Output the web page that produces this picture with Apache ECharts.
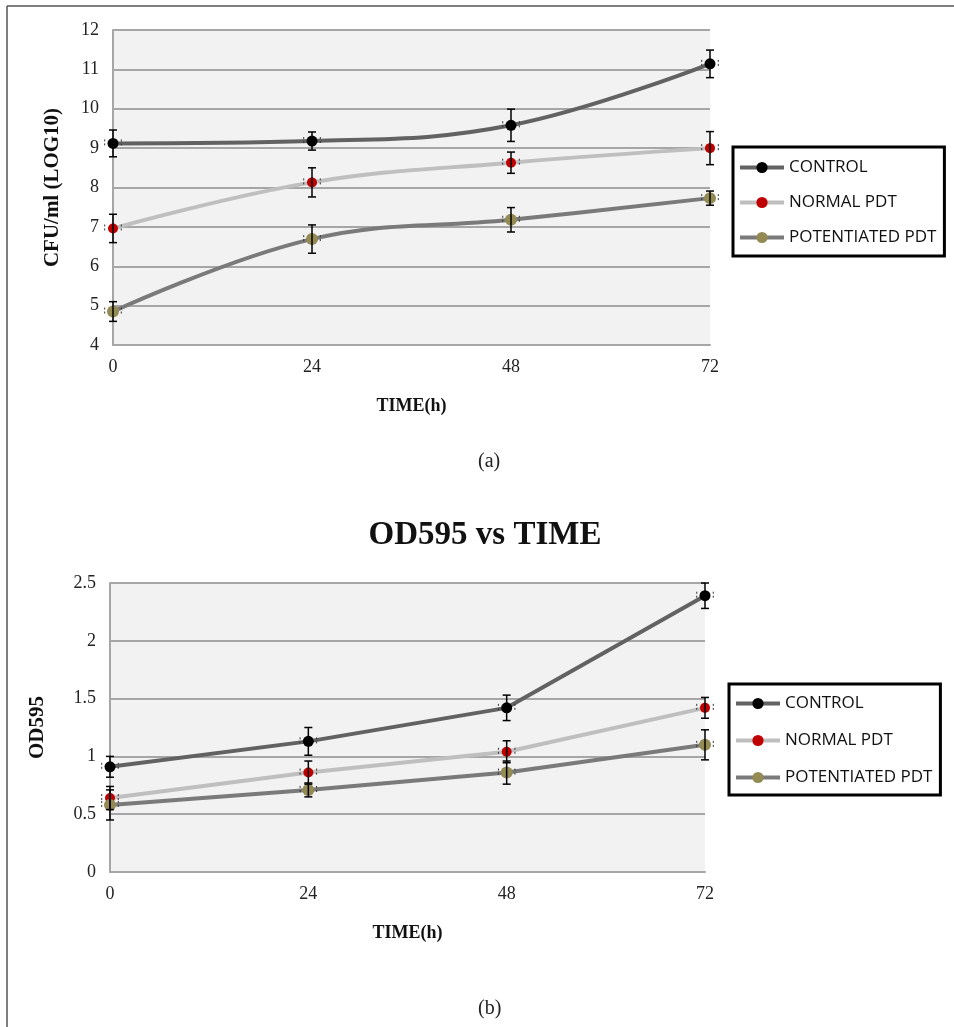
<!DOCTYPE html>
<html>
<head>
<meta charset="utf-8">
<script src="https://cdn.jsdelivr.net/npm/echarts@6/dist/echarts.min.js"></script>
<style>
  html, body { margin: 0; padding: 0; background: #fff; }
  #chart { width: 954px; height: 1027px; }
</style>
</head>
<body>
<div id="chart"></div>
<script>
// time points (h)
const hours = [0, 24, 48, 72]
const seriesNames = ['CONTROL', 'NORMAL PDT', 'POTENTIATED PDT']
// (a) CFU/ml (LOG10)
const cfuControl = [9.12, 9.18, 9.58, 11.14]
const cfuControlErr = [0.34, 0.23, 0.41, 0.35]
const cfuNormal = [6.96, 8.13, 8.63, 9.0]
const cfuNormalErr = [0.36, 0.37, 0.27, 0.42]
const cfuPotent = [4.85, 6.69, 7.18, 7.73]
const cfuPotentErr = [0.25, 0.36, 0.31, 0.18]
// (b) OD595
const odControl = [0.91, 1.13, 1.42, 2.39]
const odControlErr = [0.09, 0.12, 0.11, 0.11]
const odNormal = [0.64, 0.86, 1.04, 1.42]
const odNormalErr = [0.1, 0.1, 0.095, 0.09]
const odPotent = [0.58, 0.71, 0.86, 1.10]
const odPotentErr = [0.13, 0.06, 0.1, 0.13]
const timeErr = 1

const lineColors = ['#626262', '#bfbfbf', '#7a7a7a']
const markColors = ['#000000', '#c00000', '#948a54']
const markSizes = [11, 10, 12]

const serif = 'Liberation Serif, Times New Roman, serif'

let myChart = echarts.init(document.getElementById('chart'))

// 误差线
function errRender(params, api) {
    let x = api.value(0), y = api.value(1), e = api.value(2)
    let top = api.coord([x, y + e])
    let bot = api.coord([x, y - e])
    let l = api.coord([x - timeErr, y])
    let r = api.coord([x + timeErr, y])
    let cap = 4
    let st = { stroke: '#000', lineWidth: 1.5 }
    let dash = { stroke: '#333', lineWidth: 1, lineDash: [2, 2] }
    return {
        type: 'group',
        children: [
            { type: 'line', shape: { x1: top[0], y1: top[1], x2: bot[0], y2: bot[1] }, style: st },
            { type: 'line', shape: { x1: top[0] - cap, y1: top[1], x2: top[0] + cap, y2: top[1] }, style: st },
            { type: 'line', shape: { x1: bot[0] - cap, y1: bot[1], x2: bot[0] + cap, y2: bot[1] }, style: st },
            { type: 'line', shape: { x1: l[0], y1: l[1] - cap, x2: l[0], y2: l[1] + cap }, style: dash },
            { type: 'line', shape: { x1: r[0], y1: r[1] - cap, x2: r[0], y2: r[1] + cap }, style: dash }
        ]
    }
}

function pairs(vals) {
    return hours.map((h, i) => [h, vals[i]])
}
function triples(vals, errs) {
    return hours.map((h, i) => [h, vals[i], errs[i]])
}

let topSets = [[cfuControl, cfuControlErr], [cfuNormal, cfuNormalErr], [cfuPotent, cfuPotentErr]]
let botSets = [[odControl, odControlErr], [odNormal, odNormalErr], [odPotent, odPotentErr]]

let series = []
;[topSets, botSets].forEach((sets, g) => {
    sets.forEach((s, i) => {
        series.push({
            type: 'custom',
            xAxisIndex: g,
            yAxisIndex: g,
            renderItem: errRender,
            data: triples(s[0], s[1]),
            z: 3,
            silent: true
        })
        series.push({
            name: seriesNames[i],
            type: 'line',
            xAxisIndex: g,
            yAxisIndex: g,
            smooth: g === 0 ? 0.4 : false,
            symbol: 'circle',
            symbolSize: markSizes[i],
            data: pairs(s[0]),
            lineStyle: { color: lineColors[i], width: 4 },
            itemStyle: { color: markColors[i], borderWidth: 0 },
            z: 2
        })
    })
})

function xAxisOf(grid) {
    return {
        type: 'value',
        gridIndex: grid,
        min: 0,
        max: 72,
        interval: 24,
        name: 'TIME(h)',
        nameLocation: 'middle',
        nameGap: 52,
        nameTextStyle: { fontFamily: serif, fontWeight: 'bold', fontSize: 18, color: '#111' },
        axisLine: { show: true, lineStyle: { color: '#a6a6a6', width: 2 } },
        axisTick: { show: false },
        axisLabel: { margin: 13, fontFamily: serif, fontSize: 18, color: '#222' },
        splitLine: { show: false }
    }
}

let legendText = { fontFamily: 'Open Sans', fontSize: 17, color: '#111' }

let option = {
    animation: false,
    backgroundColor: '#fff',
    title: {
        text: 'OD595 vs TIME',
        left: 480,
        top: 514,
        textAlign: 'center',
        textStyle: { fontFamily: serif, fontWeight: 'bold', fontSize: 33, color: '#111' }
    },
    grid: [
        { left: 113, top: 30, width: 597, height: 315, show: true, backgroundColor: '#f2f2f2', borderWidth: 0 },
        { left: 110, top: 583, width: 595, height: 289, show: true, backgroundColor: '#f2f2f2', borderWidth: 0 }
    ],
    legend: [
        {
            data: seriesNames, orient: 'vertical', left: 733, top: 147,
            padding: [12, 8, 10, 5], itemGap: 18, itemWidth: 44, itemHeight: 14,
            borderColor: '#000', borderWidth: 3, selectedMode: false,
            lineStyle: { width: 4 },
            textStyle: legendText
        },
        {
            data: seriesNames, orient: 'vertical', left: 729, top: 684,
            padding: [11, 8, 9, 5], itemGap: 20, itemWidth: 44, itemHeight: 14,
            borderColor: '#000', borderWidth: 3, selectedMode: false,
            lineStyle: { width: 4 },
            textStyle: legendText
        }
    ],
    xAxis: [xAxisOf(0), xAxisOf(1)],
    yAxis: [
        {
            type: 'value', gridIndex: 0, min: 4, max: 12, interval: 1,
            name: 'CFU/ml (LOG10)', nameLocation: 'middle', nameGap: 50, nameRotate: 90,
            nameTextStyle: { fontFamily: serif, fontWeight: 'bold', fontSize: 21, color: '#111' },
            axisLine: { show: true, lineStyle: { color: '#a6a6a6', width: 2 } },
            axisTick: { show: false },
            axisLabel: { margin: 14, fontFamily: serif, fontSize: 18, color: '#222' },
            splitLine: { lineStyle: { color: '#a6a6a6', width: 2 } }
        },
        {
            type: 'value', gridIndex: 1, min: 0, max: 2.5, interval: 0.5,
            name: 'OD595', nameLocation: 'middle', nameGap: 62, nameRotate: 90,
            nameTextStyle: { fontFamily: serif, fontWeight: 'bold', fontSize: 21, color: '#111' },
            axisLine: { show: true, lineStyle: { color: '#a6a6a6', width: 2 } },
            axisTick: { show: false },
            axisLabel: { margin: 14, fontFamily: serif, fontSize: 18, color: '#222' },
            splitLine: { lineStyle: { color: '#a6a6a6', width: 2 } }
        }
    ],
    graphic: [
        { type: 'line', shape: { x1: 7, y1: 6, x2: 954, y2: 6 }, style: { stroke: '#555', lineWidth: 1.5 } },
        { type: 'line', shape: { x1: 7, y1: 6, x2: 7, y2: 1027 }, style: { stroke: '#555', lineWidth: 1.5 } },
        { type: 'text', left: 478, top: 452, style: { text: '(a)', font: '20px ' + serif, fill: '#222' } },
        { type: 'text', left: 478, top: 999, style: { text: '(b)', font: '20px ' + serif, fill: '#222' } }
    ],
    series: series
}
myChart.setOption(option)
</script>
</body>
</html>
